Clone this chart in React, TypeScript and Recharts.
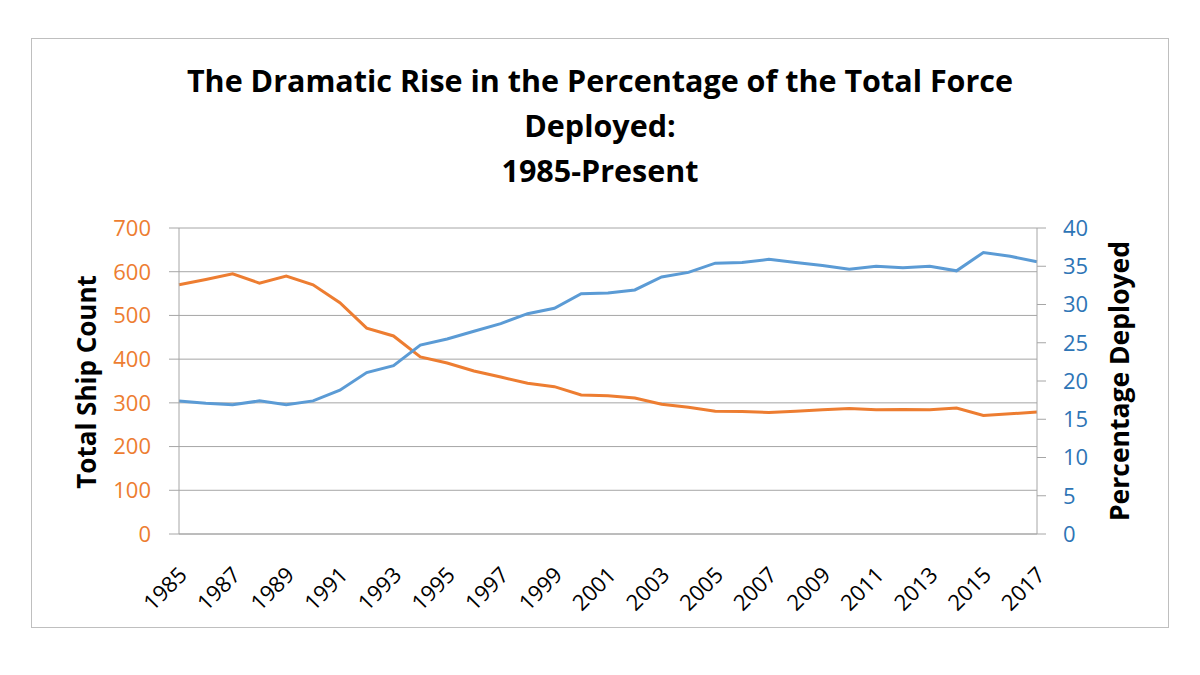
import React from 'react';
import { LineChart, Line, XAxis, YAxis, CartesianGrid } from 'recharts';

const years = [
  '1985', '1986', '1987', '1988', '1989', '1990', '1991', '1992', '1993', '1994', '1995',
  '1996', '1997', '1998', '1999', '2000', '2001', '2002', '2003', '2004', '2005', '2006',
  '2007', '2008', '2009', '2010', '2011', '2012', '2013', '2014', '2015', '2016', '2017',
];

const shipCount = [
  570, 582, 595, 574, 590, 570, 529, 471, 453, 405, 391,
  373, 359, 345, 337, 318, 316, 311, 297, 290, 281, 280,
  278, 281, 284, 287, 284, 285, 284, 288, 271, 275, 279,
];

const pctDeployed = [
  17.4, 17.1, 16.9, 17.4, 16.9, 17.4, 18.8, 21.1, 22.0, 24.7, 25.5,
  26.5, 27.5, 28.8, 29.5, 31.4, 31.5, 31.9, 33.6, 34.2, 35.4, 35.5,
  35.9, 35.5, 35.1, 34.6, 35.0, 34.8, 35.0, 34.4, 36.8, 36.3, 35.6,
];

const shipTicks = [0, 100, 200, 300, 400, 500, 600, 700];
const pctTicks = [0, 5, 10, 15, 20, 25, 30, 35, 40];

const data = years.map((year, i) => ({
  year,
  ships: shipCount[i],
  pct: pctDeployed[i],
}));

const FONT = '"Open Sans", sans-serif';
const ORANGE = '#ED7D31';
const BLUE = '#5B9BD5';
const BLUE_TEXT = '#2E75B6';
const GRID = '#A6A6A6';

function YearTick(props: any) {
  const { x, y, payload } = props;
  const ax = x + 3;
  const ay = y + 28;
  return (
    <text
      x={ax}
      y={ay}
      transform={`rotate(-45, ${ax}, ${ay})`}
      textAnchor="end"
      dominantBaseline="central"
      fontFamily={FONT}
      fontSize={22}
      fill="#000"
    >
      {payload.value}
    </text>
  );
}

export default function App() {
  return (
    <div style={{ position: 'absolute', left: 0, top: 0, width: 1200, height: 675, background: '#fff' }}>
      <div
        style={{
          position: 'absolute',
          left: 31,
          top: 38,
          width: 1136,
          height: 588,
          border: '1px solid #BFBFBF',
        }}
      />
      <div
        style={{
          position: 'absolute',
          left: 0,
          top: 58,
          width: 1200,
          textAlign: 'center',
          fontFamily: FONT,
          fontWeight: 700,
          fontSize: 30.5,
          lineHeight: '45px',
          color: '#000',
        }}
      >
        The Dramatic Rise in the Percentage of the Total Force
        <br />
        Deployed:
        <br />
        1985-Present
      </div>
      <div style={{ position: 'absolute', left: 0, top: 0 }}>
        <LineChart
          width={1200}
          height={675}
          data={data}
          margin={{ top: 228, right: 103, bottom: 81, left: 119 }}
        >
          <CartesianGrid yAxisId="left" vertical={false} stroke={GRID} strokeWidth={1} />
          <XAxis
            dataKey="year"
            interval={1}
            tickLine={false}
            axisLine={{ stroke: GRID }}
            height={60}
            tick={<YearTick />}
          />
          <YAxis
            yAxisId="left"
            domain={[0, 700]}
            ticks={shipTicks}
            width={60}
            tickSize={10}
            tickMargin={18}
            axisLine={{ stroke: GRID }}
            tickLine={{ stroke: GRID }}
            tick={{ fill: ORANGE, fontSize: 22, fontFamily: FONT }}
            label={{
              content: () => (
                <text
                  transform="translate(86, 382) rotate(-90)"
                  textAnchor="middle"
                  dominantBaseline="central"
                  fontFamily={FONT}
                  fontWeight={700}
                  fontSize={26}
                  fill="#000"
                >
                  Total Ship Count
                </text>
              ),
            }}
          />
          <YAxis
            yAxisId="right"
            orientation="right"
            domain={[0, 40]}
            ticks={pctTicks}
            width={60}
            tickSize={9}
            tickMargin={17}
            axisLine={{ stroke: GRID }}
            tickLine={{ stroke: GRID }}
            tick={{ fill: BLUE_TEXT, fontSize: 22, fontFamily: FONT }}
            label={{
              content: () => (
                <text
                  transform="translate(1119, 381) rotate(-90)"
                  textAnchor="middle"
                  dominantBaseline="central"
                  fontFamily={FONT}
                  fontWeight={700}
                  fontSize={26.5}
                  fill="#000"
                >
                  Percentage Deployed
                </text>
              ),
            }}
          />
          <Line
            yAxisId="left"
            type="linear"
            dataKey="ships"
            stroke={ORANGE}
            strokeWidth={3}
            dot={false}
            isAnimationActive={false}
          />
          <Line
            yAxisId="right"
            type="linear"
            dataKey="pct"
            stroke={BLUE}
            strokeWidth={3}
            dot={false}
            isAnimationActive={false}
          />
        </LineChart>
      </div>
    </div>
  );
}
